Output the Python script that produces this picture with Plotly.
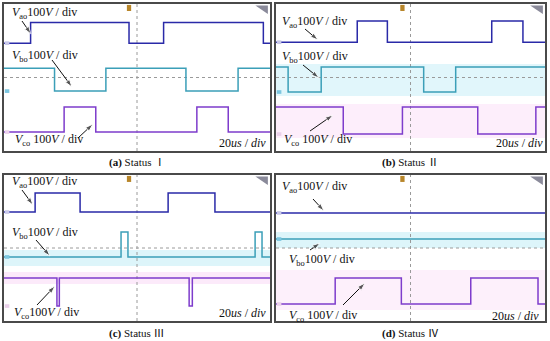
import plotly.graph_objects as go

W, H = 550, 341

# ---------------- data (time in divisions of 20us, level in divisions of 100V) ----------------
panel_ids = ["a", "b", "c", "d"]
captions = ["(a)", "(b)", "(c)", "(d)"]
status_text = ["Status Ⅰ", "Status Ⅱ", "Status Ⅲ", "Status Ⅳ"]

# switching instants (div) and whether the trace starts at its high level
vao_edges = {"a": [1.0, 4.7, 6.0, 9.75], "b": [3.02, 4.14, 8.02, 9.18],
             "c": [1.17, 2.86, 6.17, 7.93], "d": []}
vao_start_high = {"a": False, "b": False, "c": False, "d": False}
vao_low = {"a": 5.87, "b": 5.92, "c": 5.97, "d": 5.92}
vao_high = {"a": 7.0, "b": 7.07, "c": 7.01, "d": 5.92}

vbo_edges = {"a": [1.9, 3.83, 6.84, 8.8], "b": [0.45, 1.68, 5.49, 6.68],
             "c": [4.4, 4.66, 9.44, 9.7], "d": []}
vbo_start_high = {"a": True, "b": True, "c": False, "d": False}
vbo_low = {"a": 3.26, "b": 3.21, "c": 3.51, "d": 4.49}
vbo_high = {"a": 4.5, "b": 4.57, "c": 4.88, "d": 4.49}

vco_edges = {"a": [2.26, 3.45, 7.25, 8.43], "b": [2.5, 4.7, 7.5, 9.66],
             "c": [1.99, 2.08, 6.96, 7.08], "d": [2.2, 4.66, 7.24, 9.74]}
vco_start_high = {"a": False, "b": True, "c": True, "d": False}
vco_low = {"a": 1.03, "b": 0.92, "c": 0.82, "d": 0.93}
vco_high = {"a": 2.39, "b": 2.39, "c": 2.36, "d": 2.36}

# ---------------- layout helpers ----------------
boxes = {"a": (4, 270, 4, 151), "b": (276, 545, 4, 151),
         "c": (4, 270, 175, 321), "d": (276, 545, 175, 321)}
axis_of = {"a": ("x", "y"), "b": ("x2", "y2"), "c": ("x3", "y3"), "d": ("x4", "y4")}

C_AO = "#2a2aa8"
C_BO = "#3b9fb8"
C_CO = "#7e3ccc"
SERIF = "'Times New Roman', 'Liberation Serif', 'Noto Sans CJK SC', serif"


def to_data(p, px, py):
    x0, x1, y0, y1 = boxes[p]
    return (px - x0) / (x1 - x0) * 10, (y1 - py) / (y1 - y0) * 8


def step(edges, lo, hi, start_high):
    xs, ys = [0], []
    level = hi if start_high else lo
    ys.append(level)
    for e in edges:
        xs += [e, e]
        ys += [level]
        level = lo if level == hi else hi
        ys += [level]
    xs.append(10)
    ys.append(level)
    return xs, ys


fig = go.Figure()

for p in panel_ids:
    xa, ya = axis_of[p]
    for edges, sh, lo, hi, col in [
        (vao_edges[p], vao_start_high[p], vao_low[p], vao_high[p], C_AO),
        (vbo_edges[p], vbo_start_high[p], vbo_low[p], vbo_high[p], C_BO),
        (vco_edges[p], vco_start_high[p], vco_low[p], vco_high[p], C_CO),
    ]:
        xs, ys = step(edges, lo, hi, sh)
        fig.add_trace(go.Scatter(x=xs, y=ys, mode="lines", xaxis=xa, yaxis=ya,
                                 line=dict(color=col, width=1.5), hoverinfo="skip",
                                 showlegend=False))

# arrows (tail -> head, pixel positions)
arrows = {
    "a": [((22, 21), (31, 34)), ((52, 60), (72, 87)), ((78, 138), (93, 124))],
    "b": [((305, 29), (318, 40)), ((303, 65), (319, 78)), ((310, 131), (333, 115))],
    "c": [((22, 190), (33, 205)), ((36, 240), (50, 256)), ((37, 305), (55, 286))],
    "d": [((313, 199), (324, 211)), ((310, 250), (320, 243)), ((343, 305), (365, 283))],
}
for p, lst in arrows.items():
    xa, ya = axis_of[p]
    for (tx, ty), (hx, hy) in lst:
        ax_, ay_ = to_data(p, tx, ty)
        hx_, hy_ = to_data(p, hx, hy)
        fig.add_trace(go.Scatter(x=[ax_, hx_], y=[ay_, hy_], mode="lines+markers",
                                 xaxis=xa, yaxis=ya, hoverinfo="skip", showlegend=False,
                                 line=dict(color="#111", width=1),
                                 marker=dict(symbol="arrow", angleref="previous",
                                             size=[0, 8], color="#111")))

# axes
layout_axes = {}
for i, p in enumerate(panel_ids):
    x0, x1, y0, y1 = boxes[p]
    sfx = "" if i == 0 else str(i + 1)
    layout_axes["xaxis" + sfx] = dict(domain=[x0 / W, x1 / W], range=[0, 10],
                                      showticklabels=False, showgrid=False, zeroline=False,
                                      showline=True, mirror=True, linecolor="#4a4a4a",
                                      linewidth=1.5, ticks="", fixedrange=True,
                                      anchor="y" + sfx)
    layout_axes["yaxis" + sfx] = dict(domain=[1 - y1 / H, 1 - y0 / H], range=[0, 8],
                                      showticklabels=False, showgrid=False, zeroline=False,
                                      showline=True, mirror=True, linecolor="#4a4a4a",
                                      linewidth=1.5, ticks="", fixedrange=True,
                                      anchor="x" + sfx)

shapes = []
annotations = []

# light phosphor glow bands (b, c, d)
bands = {
    "b": [(64, 96, "rgba(120,215,235,0.22)"), (104, 138, "rgba(240,150,230,0.16)")],
    "c": [(250, 266, "rgba(120,215,235,0.25)"), (272, 284, "rgba(240,150,230,0.2)")],
    "d": [(232, 248, "rgba(120,215,235,0.25)"), (270, 310, "rgba(240,150,230,0.14)")],
}
for p, bl in bands.items():
    xa, ya = axis_of[p]
    for (pa, pb, col) in bl:
        _, ya0 = to_data(p, 0, pb)
        _, ya1 = to_data(p, 0, pa)
        shapes.append(dict(type="rect", xref=xa, yref=ya, x0=0, x1=10, y0=ya0, y1=ya1,
                           fillcolor=col, line=dict(width=0), layer="below"))

for p in panel_ids:
    xa, ya = axis_of[p]
    # center dotted cross
    shapes.append(dict(type="line", xref=xa, yref=ya, x0=5, x1=5, y0=0, y1=8,
                       line=dict(color="#9a9a9a", width=1, dash="dot"), layer="below"))
    shapes.append(dict(type="line", xref=xa, yref=ya, x0=0, x1=10, y0=4, y1=4,
                       line=dict(color="#9a9a9a", width=1, dash="dot"), layer="below"))
    # trigger marker at top
    shapes.append(dict(type="rect", xref=xa, yref=ya, x0=4.62, x1=4.78, y0=7.62, y1=7.95,
                       fillcolor="#b8862a", line=dict(width=0)))
    # corner triangle
    shapes.append(dict(type="path", xref=xa, yref=ya,
                       path="M 9.45 7.92 L 9.92 7.92 L 9.92 7.45 Z",
                       fillcolor="#8a8a9a", line=dict(width=0)))
    # ground markers at left
    for lv, col in [(vao_low[p], "#c8c8e8"), (vbo_low[p], "#7cc6e0"), (vco_low[p], "#ead0ea")]:
        shapes.append(dict(type="rect", xref=xa, yref=ya, x0=0.03, x1=0.2, y0=lv - 0.1,
                           y1=lv + 0.1, fillcolor=col, line=dict(width=0)))


def label(sub, space):
    sp = " " if space else ""
    return f"<i>V</i><sub>{sub}</sub>{sp}100<i>V</i> / div"


labels = {
    "a": [("ao", False, 10, 13), ("bo", False, 10, 56), ("co", True, 13, 140)],
    "b": [("ao", False, 280, 22), ("bo", False, 280, 57), ("co", True, 282, 140)],
    "c": [("ao", False, 10, 182), ("bo", False, 10, 233), ("co", False, 12, 313)],
    "d": [("ao", False, 280, 187), ("bo", False, 287, 260), ("co", True, 287, 316)],
}
for p, lst in labels.items():
    for sub, sp, px, py in lst:
        annotations.append(dict(text=label(sub, sp), xref="paper", yref="paper",
                                x=px / W, y=1 - py / H, xanchor="left", yanchor="middle",
                                showarrow=False, font=dict(family=SERIF, size=12, color="#111")))

# time base text
tb = {"a": (268, 143), "b": (545, 143), "c": (268, 313), "d": (541, 316)}
for p, (px, py) in tb.items():
    annotations.append(dict(text="20<i>us</i> / <i>div</i>", xref="paper", yref="paper",
                            x=px / W, y=1 - py / H, xanchor="right", yanchor="middle",
                            showarrow=False, font=dict(family=SERIF, size=12, color="#111")))

# captions
cap_pos = {"a": (137, 162), "b": (410, 162), "c": (137, 333), "d": (410, 333)}
for i, p in enumerate(panel_ids):
    px, py = cap_pos[p]
    annotations.append(dict(text=f"<b>{captions[i]}</b> {status_text[i]}", xref="paper",
                            yref="paper", x=px / W, y=1 - py / H, xanchor="center",
                            yanchor="middle", showarrow=False,
                            font=dict(family=SERIF, size=11, color="#111")))

fig.update_layout(width=W, height=H, margin=dict(l=0, r=0, t=0, b=0),
                  paper_bgcolor="white", plot_bgcolor="white", showlegend=False,
                  font=dict(family=SERIF),
                  shapes=shapes, annotations=annotations, **layout_axes)

fig.write_html("out.html", config={"displayModeBar": False},
               post_script="document.body.style.margin='0';document.body.style.overflow='hidden';")
